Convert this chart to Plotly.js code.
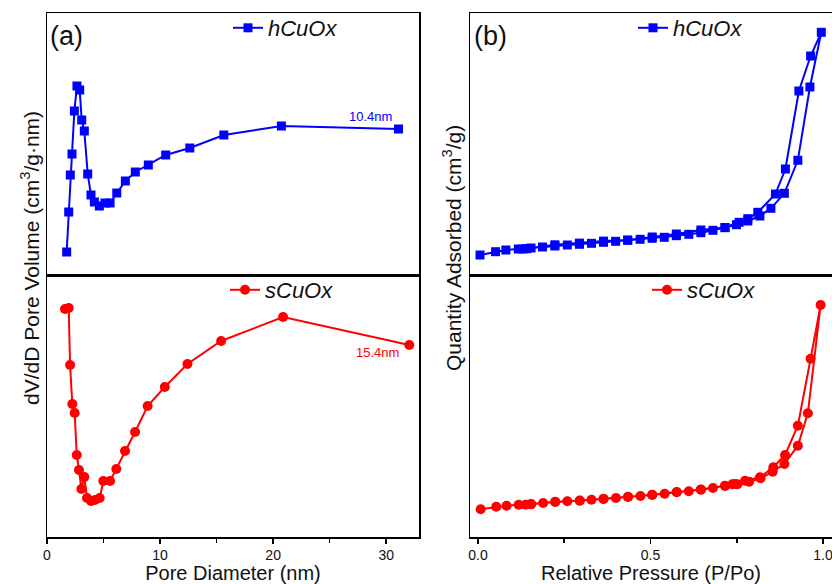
<!DOCTYPE html>
<html>
<head>
<meta charset="utf-8">
<script src="https://cdn.plot.ly/plotly-3.0.1.min.js"></script>
<style>html,body{margin:0;padding:0;background:#fff;}#chart{width:832px;height:584px;}</style>
</head>
<body>
<div id="chart"></div>
<script>
// ---- Pore size distribution (panel a), arbitrary units ----
const poreD_h = [1.74,1.92,2.06,2.21,2.42,2.65,2.89,3.07,3.30,3.60,3.89,4.19,4.63,5.13,5.58,6.17,6.93,7.81,8.96,10.50,12.63,15.64,20.73,31.09];
const dVdD_h  = [23,63,100,121,164,189,185,155,144,101,80,73,69,72,72,82,94,103,110,120,127,140,149,146];
const poreD_s = [1.59,1.92,2.04,2.24,2.45,2.63,2.83,3.04,3.30,3.54,3.89,4.25,4.66,4.98,5.58,6.13,6.90,7.79,8.90,10.42,12.42,15.40,20.88,32.04];
const dVdD_s  = [228,229,172,133,124,82,67,48,60,39,36,37,39,56,56,68,86,105,131,150,173,196,220,192];

// ---- N2 isotherms (panel b), arbitrary units ----
const P_h_ads = [0.006,0.051,0.081,0.117,0.130,0.141,0.154,0.187,0.223,0.259,0.294,0.329,0.364,0.399,0.434,0.470,0.505,0.540,0.575,0.611,0.646,0.681,0.716,0.749,0.782,0.817,0.849,0.888,0.927,0.962,0.995];
const Q_h_ads = [20,23.3,25,26,26,26.3,27,28,29,30,30.7,31.7,32.7,33.7,34.7,35.7,36.7,37.7,39.3,40.7,42.3,44.7,47.3,50.3,54,59,66.7,81.7,114.7,188,242.7];
const P_h_des = [0.964,0.930,0.891,0.862,0.811,0.782,0.757,0.716,0.646,0.575,0.505,0.434,0.364,0.294,0.223,0.141];
const Q_h_des = [219,184,106,81,62.7,56.3,52.7,47.5,45,41,38,35,33.9,31.9,30.2,26.5];

const P_s_ads = [0.008,0.053,0.083,0.118,0.138,0.154,0.189,0.224,0.259,0.295,0.329,0.364,0.400,0.435,0.471,0.505,0.541,0.576,0.611,0.646,0.681,0.716,0.737,0.752,0.786,0.819,0.854,0.888,0.927,0.956,0.993];
const Q_s_ads = [27.7,30.3,31.3,32.3,32.3,32.7,34,35,35.7,36.3,37.3,38,39,40,41,42,43.3,44.7,45.7,47.3,49,51,52.7,52.7,55.3,58.7,65.3,73,91.3,123.7,232];
const P_s_des = [0.964,0.927,0.890,0.856,0.817,0.774,0.745,0.716,0.646,0.576,0.505,0.435,0.364,0.295,0.224,0.154];
const Q_s_des = [178.3,111.3,82,69.7,59.7,56.3,53,51.3,47.6,45,42.2,40.2,38.2,36.5,35.2,32.9];

const seriesNames = ['hCuOx','sCuOx'];
const labelA = '(a)', labelB = '(b)';
const peakH = '10.4nm', peakS = '15.4nm';

const BLUE = '#0000ff', RED = '#ff0000';
const FONT = 'Liberation Sans, Arial, sans-serif';

const traces = [
  {x: poreD_h, y: dVdD_h, xaxis:'x3', yaxis:'y2', name: seriesNames[0], legend:'legend',
   mode:'lines+markers', line:{color:BLUE,width:2}, marker:{symbol:'square',size:9,color:BLUE}},
  {x: poreD_s, y: dVdD_s, xaxis:'x', yaxis:'y', name: seriesNames[1], legend:'legend2',
   mode:'lines+markers', line:{color:RED,width:2}, marker:{symbol:'circle',size:10,color:RED}},
  {x: P_h_ads.concat(P_h_des), y: Q_h_ads.concat(Q_h_des), xaxis:'x4', yaxis:'y4', name: seriesNames[0], legend:'legend3',
   mode:'lines+markers', line:{color:BLUE,width:2}, marker:{symbol:'square',size:9,color:BLUE}},
  {x: P_s_ads.concat(P_s_des), y: Q_s_ads.concat(Q_s_des), xaxis:'x2', yaxis:'y3', name: seriesNames[1], legend:'legend4',
   mode:'lines+markers', line:{color:RED,width:2}, marker:{symbol:'circle',size:10,color:RED}}
];

const W = 832, H = 584;
const dL = [47/W, 419/W], dR = [470/W, 1];
const yBot = [1-537/H, 1-275/H], yTop = [1-275/H, 1-13/H];

const frame = {showline:true, linecolor:'#000', linewidth:1.5, mirror:true, showgrid:false, zeroline:false};
const noTicks = Object.assign({}, frame, {ticks:'', showticklabels:false});
const xBottom = Object.assign({}, frame, {
  ticks:'outside', ticklen:5, tickwidth:1.5, tickcolor:'#000', ticklabeloverflow:'allow',
  tickfont:{family:FONT, size:14, color:'#111'}
});

function legendAt(px, py){
  return {x: px/W, y: 1-py/H, xanchor:'left', yanchor:'middle', bgcolor:'rgba(0,0,0,0)',
          borderwidth:0, itemwidth:30, font:{family:FONT, size:22, style:'italic', color:'#111'}};
}

const layout = {
  width: W, height: H,
  margin:{l:0,r:0,t:0,b:0},
  paper_bgcolor:'#fff', plot_bgcolor:'rgba(0,0,0,0)',
  font:{family:FONT},
  showlegend:true,
  xaxis: Object.assign({}, xBottom, {domain:dL, anchor:'y', range:[0,32.9], tick0:0, dtick:10,
    minor:{dtick:5, ticks:'outside', ticklen:4, tickwidth:1.5, tickcolor:'#000'},
    title:{text:'Pore Diameter (nm)', font:{family:FONT,size:20,color:'#111'}, standoff:4}}),
  yaxis: Object.assign({}, noTicks, {domain:yBot, anchor:'x', range:[0,262]}),
  xaxis3: Object.assign({}, noTicks, {domain:dL, anchor:'y2', matches:'x'}),
  yaxis2: Object.assign({}, noTicks, {domain:yTop, anchor:'x3', range:[0,262]}),
  xaxis2: Object.assign({}, xBottom, {domain:dR, anchor:'y3', range:[-0.023,1.026], tick0:0, dtick:0.5, tickformat:'.1f',
    minor:{dtick:0.25, ticks:'outside', ticklen:4, tickwidth:1.5, tickcolor:'#000'},
    title:{text:'Relative Pressure (P/Po)', font:{family:FONT,size:20,color:'#111'}, standoff:4}}),
  yaxis3: Object.assign({}, noTicks, {domain:yBot, anchor:'x2', range:[0,262]}),
  xaxis4: Object.assign({}, noTicks, {domain:dR, anchor:'y4', matches:'x2'}),
  yaxis4: Object.assign({}, noTicks, {domain:yTop, anchor:'x4', range:[0,262]}),
  legend: legendAt(228, 28),
  legend2: legendAt(225, 290),
  legend3: legendAt(633, 28),
  legend4: legendAt(647, 290),
  annotations: [
    {text: labelA, xref:'paper', yref:'paper', x:48/W, y:1-36/H, xanchor:'left', yanchor:'middle', showarrow:false,
     font:{family:FONT, size:27, color:'#111'}},
    {text: labelB, xref:'paper', yref:'paper', x:472/W, y:1-36/H, xanchor:'left', yanchor:'middle', showarrow:false,
     font:{family:FONT, size:27, color:'#111'}},
    {text: peakH, xref:'x3', yref:'y2', x:28.6, y:159, showarrow:false, font:{family:FONT, size:13, color:BLUE}},
    {text: peakS, xref:'x', yref:'y', x:29.2, y:184, showarrow:false, font:{family:FONT, size:13, color:RED}},
    {text:'dV/dD Pore Volume (cm<sup>3</sup>/g·nm)', xref:'paper', yref:'paper', x:30/W, y:1-258/H, textangle:-90,
     xanchor:'center', yanchor:'middle', showarrow:false, font:{family:FONT, size:21, color:'#111'}},
    {text:'Quantity Adsorbed (cm<sup>3</sup>/g)', xref:'paper', yref:'paper', x:452/W, y:1-248/H, textangle:-90,
     xanchor:'center', yanchor:'middle', showarrow:false, font:{family:FONT, size:21, color:'#111'}}
  ]
};

Plotly.newPlot('chart', traces, layout, {staticPlot:true, displayModeBar:false});
</script>
</body>
</html>
